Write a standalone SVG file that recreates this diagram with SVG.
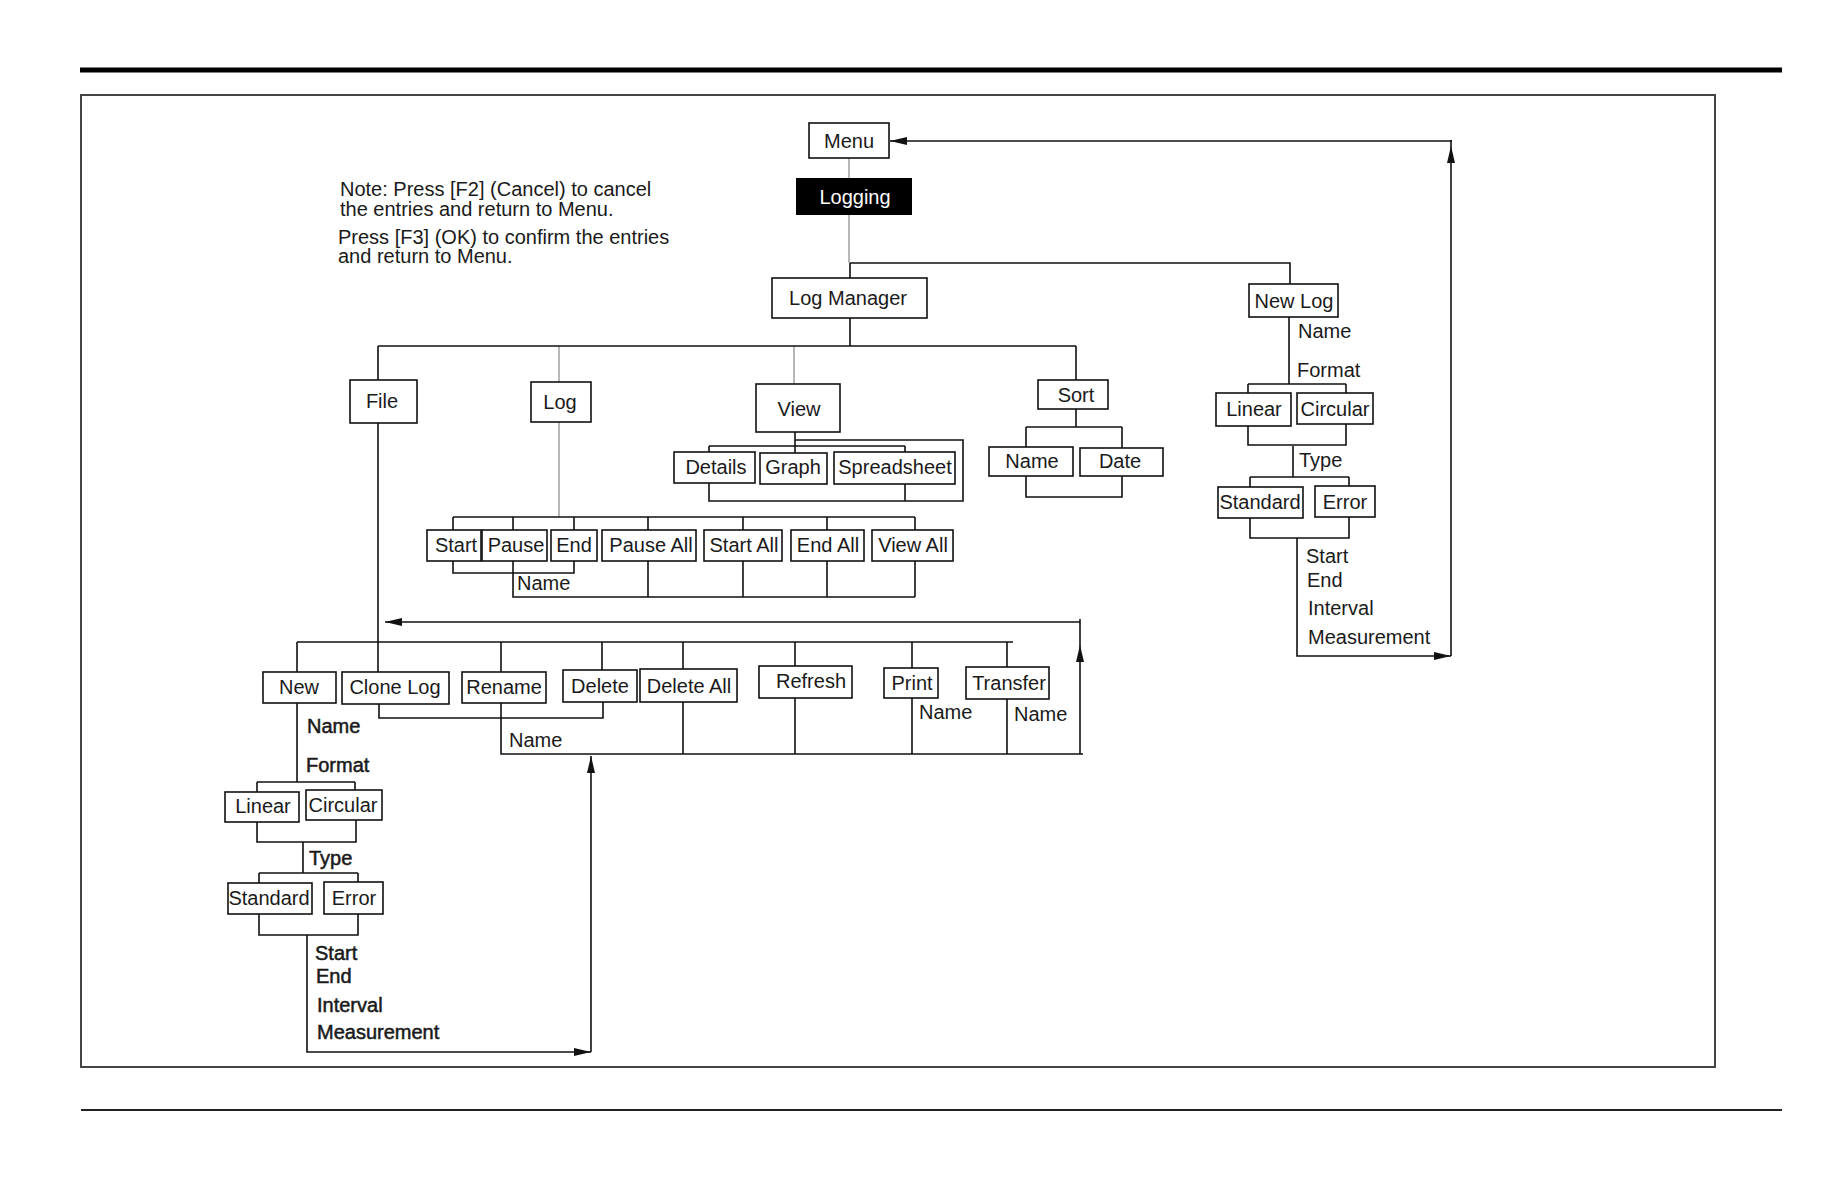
<svg xmlns="http://www.w3.org/2000/svg" width="1836" height="1188" viewBox="0 0 1836 1188">
<style>
.b{fill:#fff;stroke:#111;stroke-width:1.6}
.t{font-family:"Liberation Sans",Arial,sans-serif;font-size:20px;fill:#1a1a1a}
.c{text-anchor:middle}
.w{fill:#fff}
.k{stroke:#1a1a1a;stroke-width:0.5}
.ln{fill:none;stroke:#111;stroke-width:1.6}
.g{fill:none;stroke:#9a9a9a;stroke-width:1.4}
</style>
<defs>
<marker id="ar" markerWidth="18" markerHeight="8" refX="17" refY="4" orient="auto" markerUnits="userSpaceOnUse">
<path d="M0,0 L17,4 L0,8 z" fill="#111"/>
</marker>
</defs>
<rect width="1836" height="1188" fill="#fff"/>
<g id="page">
<line x1="80" y1="70" x2="1782" y2="70" stroke="#000" stroke-width="5"/>
<rect x="81" y="95" width="1634" height="972" fill="none" stroke="#444" stroke-width="2"/>
<line x1="81" y1="1110" x2="1782" y2="1110" stroke="#222" stroke-width="2"/>
</g>
<g id="note" class="t">
<text x="340" y="196">Note: Press [F2] (Cancel) to cancel</text>
<text x="340" y="216">the entries and return to Menu.</text>
<text x="338" y="244">Press [F3] (OK) to confirm the entries</text>
<text x="338" y="263">and return to Menu.</text>
</g>
<g id="connectors">
<path class="g" d="M849,158 V178 M849,215 V263 M559,346 V382 M559,422 V517 M794,346 V384"/>
<path class="ln" d="M850,263 H1290 V284 M850,263 V278 M850,318 V346 M378,346 H1076 M378,346 V380 M1076,346 V380"/>
<path class="ln" d="M795,432 V453 M709,446 H905 M709,446 V452 M905,446 V452 M795,440 H963 V501 H709 V483 M905,484 V501"/>
<path class="ln" d="M1076,409 V427 M1026,427 H1122 M1026,427 V447 M1122,427 V448 M1026,476 V497 H1122 V476"/>
<path class="ln" d="M1289,317 V384 M1248,384 H1346 M1248,384 V393 M1346,384 V393 M1248,426 V445 H1346 V424 M1293,446 V477 M1250,477 H1349 M1250,477 V487 M1349,477 V486 M1250,518 V538 H1349 V517"/>
<path class="ln" d="M1297,538 V656 H1451" marker-end="url(#ar)"/>
<line class="ln" x1="1451" y1="656" x2="1451" y2="146" marker-end="url(#ar)"/>
<line class="ln" x1="1451" y1="146" x2="1451" y2="140"/>
<line class="ln" x1="1452" y1="141" x2="890" y2="141" marker-end="url(#ar)"/>
<path class="ln" d="M453,517 H915 M453,517 V530 M513,517 V530 M574,517 V530 M648,517 V530 M743,517 V530 M827,517 V530 M915,517 V530"/>
<path class="ln" d="M453,561 V573 H574 V561 M513,561 V597 H915 M648,561 V597 M743,561 V597 M827,561 V597 M915,561 V597"/>
<path class="ln" d="M378,423 V672"/>
<line class="ln" x1="1080" y1="622" x2="385" y2="622" marker-end="url(#ar)"/>
<line class="ln" x1="1080" y1="754" x2="1080" y2="645" marker-end="url(#ar)"/>
<line class="ln" x1="1080" y1="645" x2="1080" y2="619"/>
<path class="ln" d="M297,642 H1013 M297,642 V672 M501,642 V672 M602,642 V670 M683,642 V669 M795,642 V666 M912,642 V668 M1007,642 V667"/>
<path class="ln" d="M379,704 V718 H603 V702 M501,703 V754 H1083 M683,702 V754 M795,698 V754 M912,698 V754 M1007,699 V754"/>
<path class="ln" d="M297,703 V782 M257,782 H355 M257,782 V792 M355,782 V790 M257,822 V842 H356 V820 M303,842 V873 M259,873 H358 M259,873 V883 M358,873 V882 M259,914 V935 H358 V914"/>
<path class="ln" d="M307,935 V1052 H591" marker-end="url(#ar)"/>
<line class="ln" x1="591" y1="1052" x2="591" y2="756" marker-end="url(#ar)"/>
</g>
<g id="n-menu"><rect class="b" x="809" y="123" width="80" height="35"/><text class="t c" x="849" y="148">Menu</text></g>
<g id="n-logging"><rect x="796" y="178" width="116" height="37" fill="#000"/><text class="t c w" x="855" y="204">Logging</text></g>
<g id="n-logmanager"><rect class="b" x="772" y="278" width="155" height="40"/><text class="t c" x="848" y="305">Log Manager</text></g>
<g id="n-file"><rect class="b" x="350" y="380" width="67" height="43"/><text class="t c" x="382" y="408">File</text></g>
<g id="n-log"><rect class="b" x="531" y="382" width="60" height="40"/><text class="t c" x="560" y="409">Log</text></g>
<g id="n-view"><rect class="b" x="756" y="384" width="84" height="48"/><text class="t c" x="799" y="416">View</text></g>
<g id="n-sort"><rect class="b" x="1038" y="380" width="70" height="29"/><text class="t c" x="1076" y="402">Sort</text></g>
<g id="n-sortname"><rect class="b" x="989" y="447" width="84" height="29"/><text class="t c" x="1032" y="468">Name</text></g>
<g id="n-sortdate"><rect class="b" x="1080" y="448" width="83" height="28"/><text class="t c" x="1120" y="468">Date</text></g>
<g id="n-details"><rect class="b" x="674" y="452" width="81" height="31"/><text class="t c" x="716" y="474">Details</text></g>
<g id="n-graph"><rect class="b" x="760" y="453" width="67" height="31"/><text class="t c" x="793" y="474">Graph</text></g>
<g id="n-spreadsheet"><rect class="b" x="834" y="452" width="121" height="32"/><text class="t c" x="895" y="474">Spreadsheet</text></g>
<g id="n-start"><rect class="b" x="427" y="530" width="54" height="31"/><text class="t c" x="456" y="552">Start</text></g>
<g id="n-pause"><rect class="b" x="482" y="530" width="65" height="31"/><text class="t c" x="516" y="552">Pause</text></g>
<g id="n-end"><rect class="b" x="551" y="530" width="46" height="31"/><text class="t c" x="574" y="552">End</text></g>
<g id="n-pauseall"><rect class="b" x="602" y="530" width="94" height="31"/><text class="t c" x="651" y="552">Pause All</text></g>
<g id="n-startall"><rect class="b" x="704" y="530" width="78" height="31"/><text class="t c" x="744" y="552">Start All</text></g>
<g id="n-endall"><rect class="b" x="791" y="530" width="73" height="31"/><text class="t c" x="828" y="552">End All</text></g>
<g id="n-viewall"><rect class="b" x="872" y="530" width="81" height="31"/><text class="t c" x="913" y="552">View All</text></g>
<g id="n-newlog"><rect class="b" x="1249" y="284" width="89" height="33"/><text class="t c" x="1294" y="308">New Log</text></g>
<g id="n-linear-r"><rect class="b" x="1216" y="393" width="75" height="33"/><text class="t c" x="1254" y="416">Linear</text></g>
<g id="n-circular-r"><rect class="b" x="1297" y="393" width="76" height="31"/><text class="t c" x="1335" y="416">Circular</text></g>
<g id="n-standard-r"><rect class="b" x="1218" y="487" width="85" height="31"/><text class="t c" x="1260" y="509">Standard</text></g>
<g id="n-error-r"><rect class="b" x="1315" y="486" width="60" height="31"/><text class="t c" x="1345" y="509">Error</text></g>
<g id="n-new"><rect class="b" x="263" y="672" width="73" height="31"/><text class="t c" x="299" y="694">New</text></g>
<g id="n-clonelog"><rect class="b" x="342" y="672" width="107" height="32"/><text class="t c" x="395" y="694">Clone Log</text></g>
<g id="n-rename"><rect class="b" x="462" y="672" width="84" height="31"/><text class="t c" x="504" y="694">Rename</text></g>
<g id="n-delete"><rect class="b" x="563" y="670" width="74" height="32"/><text class="t c" x="600" y="693">Delete</text></g>
<g id="n-deleteall"><rect class="b" x="640" y="669" width="97" height="33"/><text class="t c" x="689" y="693">Delete All</text></g>
<g id="n-refresh"><rect class="b" x="759" y="666" width="93" height="32"/><text class="t c" x="811" y="688">Refresh</text></g>
<g id="n-print"><rect class="b" x="884" y="668" width="54" height="30"/><text class="t c" x="912" y="690">Print</text></g>
<g id="n-transfer"><rect class="b" x="966" y="667" width="83" height="32"/><text class="t c" x="1009" y="690">Transfer</text></g>
<g id="n-linear-l"><rect class="b" x="225" y="792" width="74" height="30"/><text class="t c" x="263" y="813">Linear</text></g>
<g id="n-circular-l"><rect class="b" x="306" y="790" width="76" height="30"/><text class="t c" x="343" y="812">Circular</text></g>
<g id="n-standard-l"><rect class="b" x="228" y="883" width="84" height="31"/><text class="t c" x="269" y="905">Standard</text></g>
<g id="n-error-l"><rect class="b" x="324" y="882" width="59" height="32"/><text class="t c" x="354" y="905">Error</text></g>
<g id="labels" class="t">
<text x="1298" y="338">Name</text>
<text x="1297" y="377">Format</text>
<text x="1299" y="467">Type</text>
<text x="1306" y="563">Start</text>
<text x="1307" y="587">End</text>
<text x="1308" y="615">Interval</text>
<text x="1308" y="644">Measurement</text>
<text x="517" y="590">Name</text>
<text x="509" y="747">Name</text>
<text x="919" y="719">Name</text>
<text x="1014" y="721">Name</text>
<g class="k">
<text x="307" y="733">Name</text>
<text x="306" y="772">Format</text>
<text x="309" y="865">Type</text>
<text x="315" y="960">Start</text>
<text x="316" y="983">End</text>
<text x="317" y="1012">Interval</text>
<text x="317" y="1039">Measurement</text>
</g>
</g>
</svg>
